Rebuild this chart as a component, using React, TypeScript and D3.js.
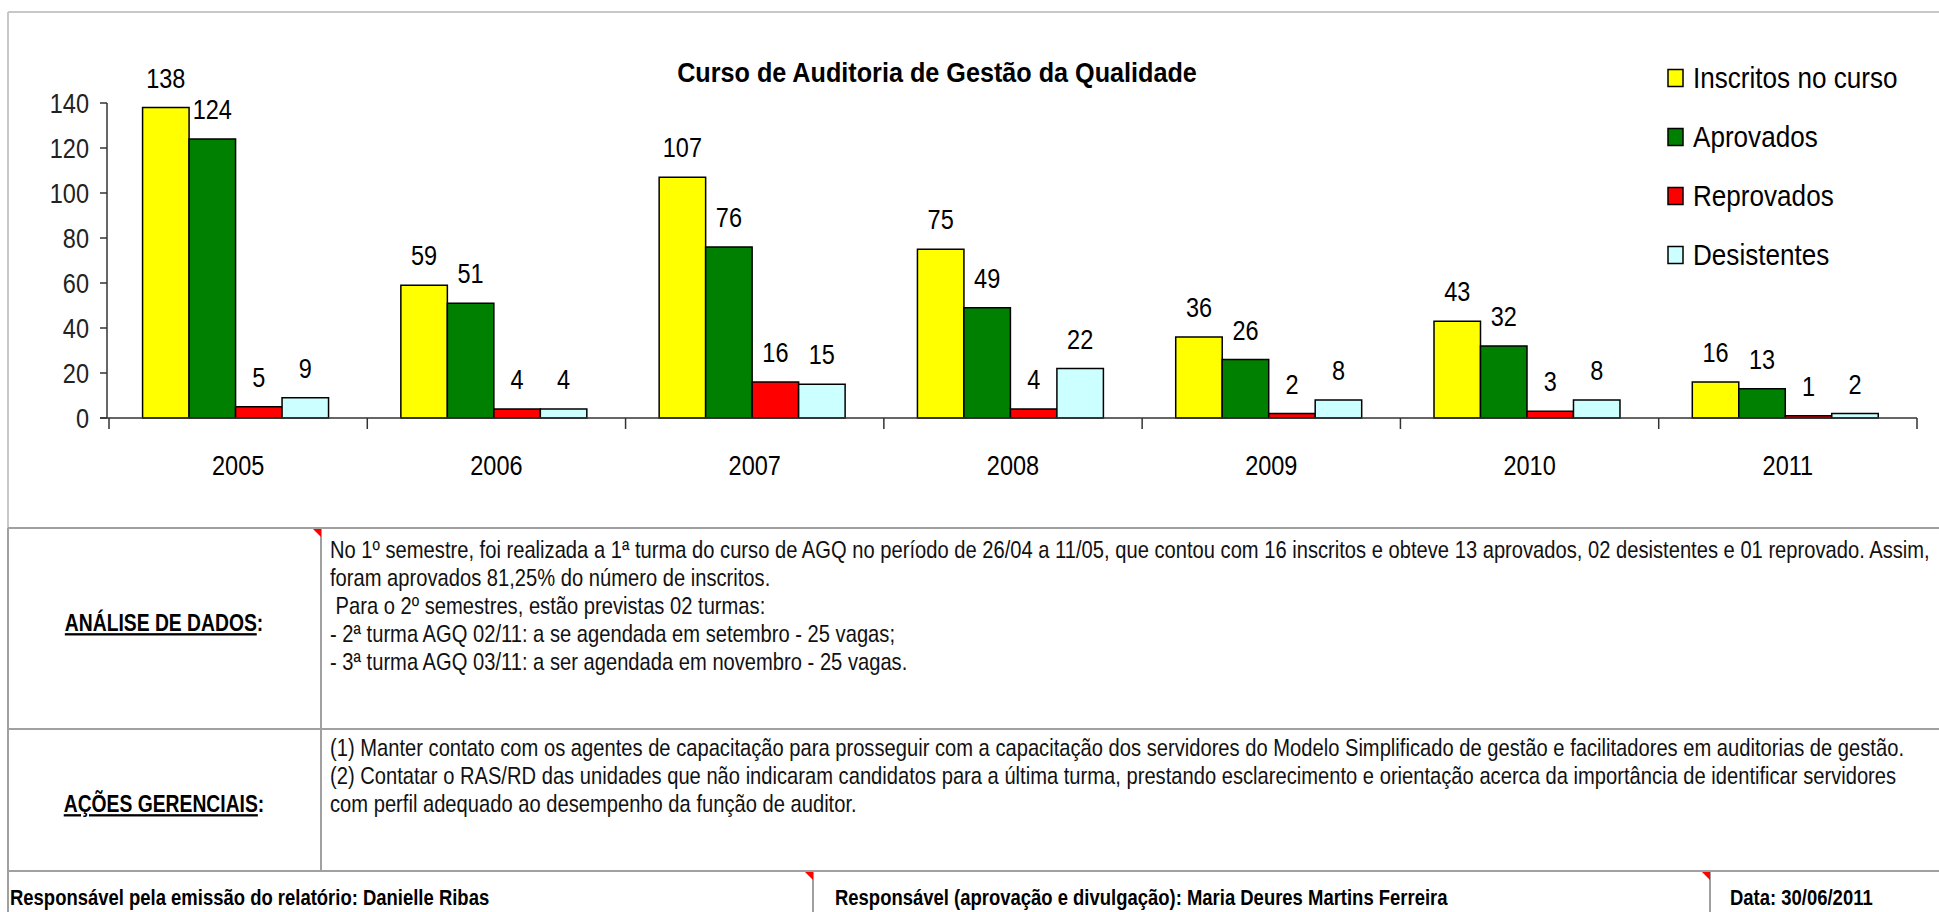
import * as React from "react";
import * as d3 from "d3";

const years = ["2005", "2006", "2007", "2008", "2009", "2010", "2011"];
const inscritos = [138, 59, 107, 75, 36, 43, 16];
const aprovados = [124, 51, 76, 49, 26, 32, 13];
const reprovados = [5, 4, 16, 4, 2, 3, 1];
const desistentes = [9, 4, 15, 22, 8, 8, 2];
const seriesNames = ["Inscritos no curso", "Aprovados", "Reprovados", "Desistentes"];
const seriesColors = ["#ffff00", "#008000", "#ff0000", "#ccffff"];
const yTicks = [0, 20, 40, 60, 80, 100, 120, 140];

const title = "Curso de Auditoria de Gestão da Qualidade";
const analiseLines = [
  "No 1º semestre, foi realizada a 1ª turma do curso de AGQ no período de 26/04 a 11/05, que contou com 16 inscritos e obteve 13 aprovados, 02 desistentes e 01 reprovado. Assim,",
  "foram aprovados 81,25% do número de inscritos.",
  " Para o 2º semestres, estão previstas 02 turmas:",
  "- 2ª turma AGQ 02/11: a se agendada em setembro - 25 vagas;",
  "- 3ª turma AGQ 03/11: a ser agendada em novembro - 25 vagas.",
];
const acoesLines = [
  "(1) Manter contato com os agentes de capacitação para prosseguir com a capacitação dos servidores do Modelo Simplificado de gestão e facilitadores em auditorias de gestão.",
  "(2) Contatar o RAS/RD das unidades que não indicaram candidatos para a última turma, prestando esclarecimento e orientação acerca da importância de identificar servidores",
  "com perfil adequado ao desempenho da função de auditor.",
];
const footer = [
  "Responsável pela emissão do relatório: Danielle Ribas",
  "Responsável (aprovação e divulgação): Maria Deures Martins Ferreira",
  "Data: 30/06/2011",
];

const W = 1939;
const H = 912;
const FONT = "'Liberation Sans', Arial, sans-serif";

// narrow text: Arial squeezed horizontally, like the Arial Narrow of the original
function NText(props: any) {
  const { x, y, sx = 0.84, children, ...rest } = props;
  return (
    <text transform={`translate(${x},${y}) scale(${sx},1)`} {...rest}>
      {children}
    </text>
  );
}

export default function App() {
  const series = [inscritos, aprovados, reprovados, desistentes];

  const x0 = d3.scaleBand<string>().domain(years).range([109, 1917]);
  const bw = x0.bandwidth();
  const x1 = d3
    .scaleBand<number>()
    .domain(d3.range(series.length))
    .range([bw * 0.13, bw * 0.85]);
  const y = d3.scaleLinear().domain([0, 140]).range([418, 103]);

  const gridColor = "#a0a0a0";

  return (
    <svg
      width={W}
      height={H}
      style={{ position: "absolute", left: 0, top: 0, background: "#fff" }}
      fontFamily={FONT}
    >
      {/* chart frame */}
      <line x1={8} x2={W} y1={12} y2={12} stroke="#c8c8c8" strokeWidth={2} />
      <line x1={8} x2={8} y1={12} y2={H} stroke="#c8c8c8" strokeWidth={2} />

      <NText x={937} y={82} sx={0.9} textAnchor="middle" fontSize={28} fontWeight="bold">
        {title}
      </NText>

      {/* bars */}
      {years.map((yr, i) => (
        <g key={yr} transform={`translate(${x0(yr)},0)`}>
          {series.map((s, j) => (
            <g key={j}>
              <rect
                x={x1(j)}
                y={y(s[i])}
                width={x1.bandwidth()}
                height={y(0) - y(s[i])}
                fill={seriesColors[j]}
                stroke="#000"
                strokeWidth={1.5}
              />
              <NText
                x={(x1(j) as number) + x1.bandwidth() / 2}
                y={y(s[i]) - 20}
                textAnchor="middle"
                fontSize={28}
              >
                {s[i]}
              </NText>
            </g>
          ))}
        </g>
      ))}

      {/* y axis */}
      <line x1={107} x2={107} y1={y(140)} y2={y(0)} stroke="#333" strokeWidth={1.5} />
      {yTicks.map((t) => (
        <g key={t}>
          <line x1={100} x2={107} y1={y(t)} y2={y(t)} stroke="#333" strokeWidth={1.5} />
          <NText x={89} y={y(t) + 10} textAnchor="end" fontSize={28} fill="#222">
            {t}
          </NText>
        </g>
      ))}

      {/* x axis */}
      <line x1={100} x2={1917} y1={y(0)} y2={y(0)} stroke="#333" strokeWidth={1.5} />
      {[...years.map((yr) => x0(yr) as number), 1917].map((xx, i) => (
        <line key={i} x1={xx} x2={xx} y1={y(0)} y2={y(0) + 11} stroke="#333" strokeWidth={1.5} />
      ))}
      {years.map((yr) => (
        <NText key={yr} x={(x0(yr) as number) + bw / 2} y={475} textAnchor="middle" fontSize={28}>
          {yr}
        </NText>
      ))}

      {/* legend */}
      {seriesNames.map((n, j) => (
        <g key={n} transform={`translate(1668,${78 + j * 59})`}>
          <rect x={0} y={-8.5} width={15} height={17} fill={seriesColors[j]} stroke="#000" strokeWidth={1.5} />
          <NText x={25} y={10} sx={0.9} fontSize={29}>
            {n}
          </NText>
        </g>
      ))}

      {/* table */}
      {[528, 729, 871].map((yy) => (
        <line key={yy} x1={8} x2={W} y1={yy} y2={yy} stroke={gridColor} strokeWidth={2} />
      ))}
      <line x1={8} x2={8} y1={528} y2={H} stroke={gridColor} strokeWidth={2} />
      <line x1={321} x2={321} y1={528} y2={871} stroke={gridColor} strokeWidth={2} />
      <line x1={813} x2={813} y1={871} y2={H} stroke={gridColor} strokeWidth={2} />
      <line x1={1710} x2={1710} y1={871} y2={H} stroke={gridColor} strokeWidth={2} />
      {[
        [321, 529],
        [813, 872],
        [1710, 872],
      ].map(([cx, cy], i) => (
        <path key={i} d={`M${cx - 8},${cy}L${cx},${cy}L${cx},${cy + 8}Z`} fill="#ff0000" />
      ))}

      <NText x={164} y={631} textAnchor="middle" fontSize={23} fontWeight="bold">
        <tspan textDecoration="underline">ANÁLISE DE DADOS</tspan>:
      </NText>
      <NText x={164} y={812} textAnchor="middle" fontSize={23} fontWeight="bold">
        <tspan textDecoration="underline">AÇÕES GERENCIAIS</tspan>:
      </NText>

      {analiseLines.map((l, i) => (
        <NText key={i} x={330} y={558 + i * 28} fontSize={24} xmlSpace="preserve" fill="#111">
          {l}
        </NText>
      ))}
      {acoesLines.map((l, i) => (
        <NText key={i} x={330} y={756 + i * 28} fontSize={24} fill="#111">
          {l}
        </NText>
      ))}

      <NText x={10} y={905} fontSize={22} fontWeight="bold">
        {footer[0]}
      </NText>
      <NText x={835} y={905} fontSize={22} fontWeight="bold">
        {footer[1]}
      </NText>
      <NText x={1730} y={905} fontSize={22} fontWeight="bold">
        {footer[2]}
      </NText>
    </svg>
  );
}
